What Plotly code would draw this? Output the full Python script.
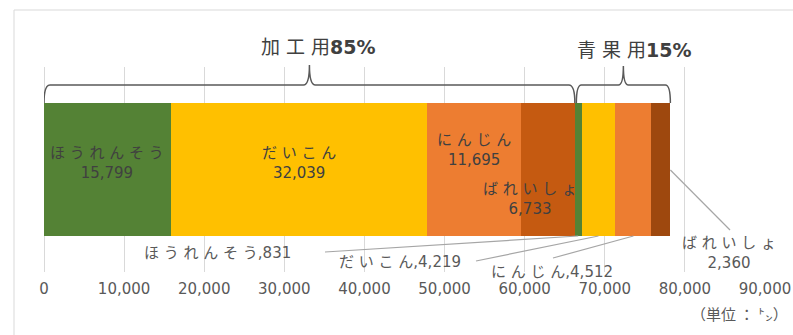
import plotly.graph_objects as go

# ---------------- data ----------------
categories = ["ほうれんそう", "だいこん", "にんじん", "ばれいしょ"]
processed = [15799, 32039, 11695, 6733]      # 加工用
fresh = [831, 4219, 4512, 2360]              # 青果用
processed_colors = ["#548235", "#FFC000", "#ED7D31", "#C55A11"]
fresh_colors = ["#548235", "#FFC000", "#ED7D31", "#9E480E"]
tick_values = [0, 10000, 20000, 30000, 40000, 50000, 60000, 70000, 80000, 90000]
group_names = ["加工用", "青果用"]
group_shares = ["85%", "15%"]
unit_label = "（単位 ： ㌧）"

# ---------------- layout geometry ----------------
W, H = 793, 335
L, R, T, B = 44, 28, 67, 63
PW, PH = W - L - R, H - T - B
XMAX = 90000
FONT = "DejaVu Sans, Noto Sans CJK JP, sans-serif"


def X(px):  # pixel -> paper x
    return (px - L) / PW


def Y(py):  # pixel -> paper y
    return (H - B - py) / PH


def D(px):  # pixel -> data x
    return (px - L) * XMAX / PW


def spaced(s):
    return " ".join(s)


def note(x, y, text, size=15, color="#595959", xref="paper", xanchor="center",
         xshift=0, family=FONT):
    fig.add_annotation(x=x, xref=xref, y=y, yref="paper", text=text,
                       showarrow=False, xanchor=xanchor, yanchor="middle",
                       xshift=xshift, align="center",
                       font=dict(family=family, size=size, color=color))


fig = go.Figure()

# stacked bars
for name, v, c in zip(categories, processed, processed_colors):
    fig.add_trace(go.Bar(x=[v], y=[0], orientation="h", marker_color=c,
                         marker_line_width=0, width=0.644, name="加工用" + name,
                         showlegend=False, hoverinfo="skip"))
for name, v, c in zip(categories, fresh, fresh_colors):
    fig.add_trace(go.Bar(x=[v], y=[0], orientation="h", marker_color=c,
                         marker_line_width=0, width=0.644, name="青果用" + name,
                         showlegend=False, hoverinfo="skip"))

# cumulative positions
starts_p, acc = [], 0
for v in processed:
    starts_p.append(acc)
    acc += v
total_p = acc
starts_f = []
for v in fresh:
    starts_f.append(acc)
    acc += v
total = acc

# in-bar labels for processed
label_pos = [(163, 0), (163, 0), (150, 0), (199, -18)]
for name, v, s, (py, dx) in zip(categories, processed, starts_p, label_pos):
    note(s + v / 2, Y(py), f"{spaced(name)}<br>{v:,}", color="#404040",
         xref="x", xshift=dx)

# outside labels for fresh with leader lines
out_labels = [
    (f"{spaced(categories[0])},{fresh[0]:,}", 217, 253, 325, 252),
    (f"{spaced(categories[1])},{fresh[1]:,}", 400, 262, 476, 261),
    (f"{spaced(categories[2])},{fresh[2]:,}", 552, 272, 553, 258),
]
bar_bottom = Y(236)
for (txt, cx, cy, lx, ly), v, s in zip(out_labels, fresh[:3], starts_f[:3]):
    note(X(cx), Y(cy), txt)
    fig.add_shape(type="line", xref="x", yref="paper", x0=D(lx), y0=Y(ly),
                  x1=s + v / 2, y1=bar_bottom, line=dict(color="#a6a6a6", width=1.2))

# ばれいしょ (fresh)
note(X(729), Y(253), f"{spaced(categories[3])}<br>{fresh[3]:,}")
fig.add_shape(type="line", xref="x", yref="paper", x0=total, y0=Y(170),
              x1=D(730), y1=Y(230), line=dict(color="#a6a6a6", width=1.2))


# braces
def brace(x0, x1, yb, yh, yt, r):
    xm = (x0 + x1) / 2
    return (f"M {x0},{yb} Q {x0},{yh} {x0 + r},{yh} L {xm - r},{yh} "
            f"Q {xm},{yh} {xm},{yt} Q {xm},{yh} {xm + r},{yh} "
            f"L {x1 - r},{yh} Q {x1},{yh} {x1},{yb}")


fig.add_shape(type="path", xref="x", yref="paper",
              path=brace(0, total_p, Y(103), Y(85), Y(65), D(L + 6)),
              line=dict(color="#595959", width=1.5))
fig.add_shape(type="path", xref="x", yref="paper",
              path=brace(total_p + D(L + 1.5), total, Y(103), Y(85), Y(66), D(L + 5)),
              line=dict(color="#595959", width=1.5))

note(total_p / 2, Y(47), spaced(group_names[0]) + f"<b>{group_shares[0]}</b>",
     size=19, color="#404040", xref="x", xshift=9)
note((total_p + total) / 2, Y(50), spaced(group_names[1]) + f"<b>{group_shares[1]}</b>",
     size=19, color="#404040", xref="x", xshift=12)

# unit label
note(X(790), Y(313), unit_label, size=15, xanchor="right", family="Noto Sans CJK JP")

# chart border (left & top visible)
fig.add_shape(type="line", xref="paper", yref="paper", x0=X(14), y0=Y(10),
              x1=X(800), y1=Y(10), line=dict(color="#d9d9d9", width=1))
fig.add_shape(type="line", xref="paper", yref="paper", x0=X(14), y0=Y(10),
              x1=X(14), y1=Y(340), line=dict(color="#d9d9d9", width=1))

fig.update_layout(
    width=W, height=H, margin=dict(l=L, r=R, t=T, b=B, autoexpand=False),
    barmode="stack", bargap=0, paper_bgcolor="white", plot_bgcolor="white",
    showlegend=False,
    xaxis=dict(range=[0, XMAX], tickvals=tick_values, tickformat=",",
               showgrid=True, gridcolor="#d9d9d9", gridwidth=1,
               zeroline=True, zerolinecolor="#d9d9d9", zerolinewidth=1,
               showline=False, ticks="", ticklabelstandoff=6, automargin=False,
               tickfont=dict(family=FONT, size=15, color="#595959"), fixedrange=True),
    yaxis=dict(range=[-0.5, 0.5], visible=False, fixedrange=True, automargin=False),
)

fig.write_html("out.html")
